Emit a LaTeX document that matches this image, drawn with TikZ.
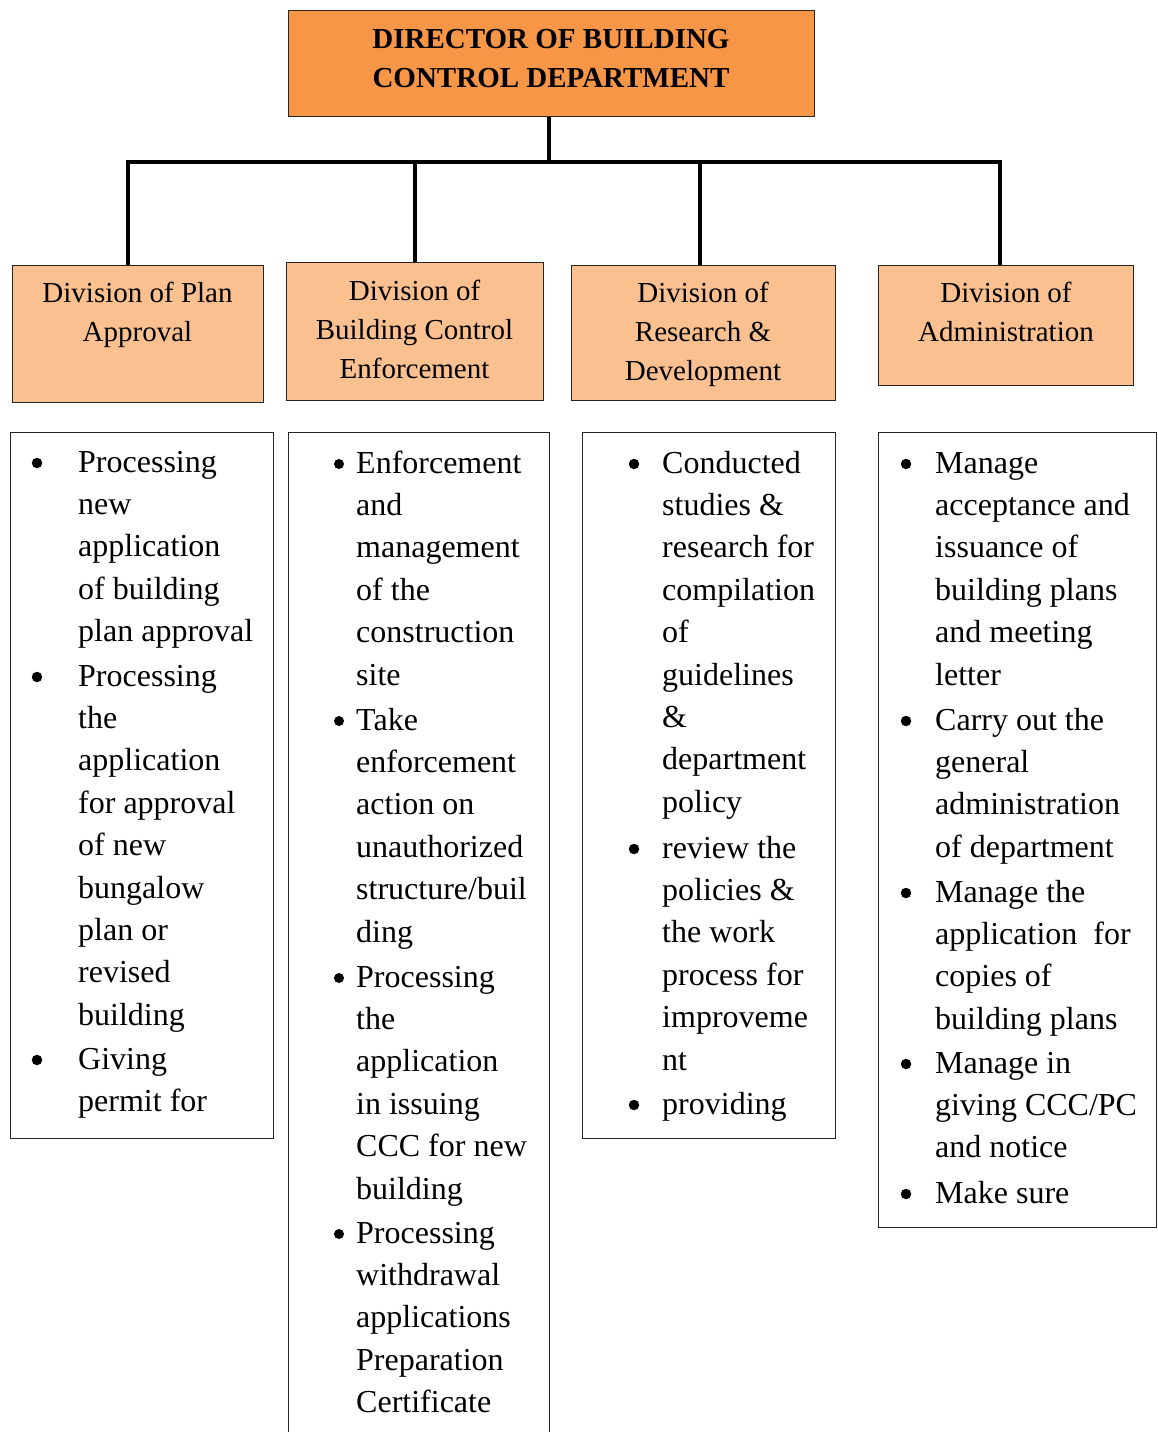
\documentclass[tikz,border=0pt]{standalone}
\usepackage{fontspec}
\setmainfont{Liberation Serif}
\definecolor{topfill}{HTML}{F79646}
\definecolor{divfill}{HTML}{FAC090}
\begin{document}
\begin{tikzpicture}[x=1pt,y=-1pt,
  box/.style={draw=black!85,line width=1.3pt,inner sep=0pt,anchor=north west},
  topbox/.style={box,fill=topfill},
  divbox/.style={box,fill=divfill},
  listbox/.style={box,fill=white},
  toptext/.style={font=\fontsize{29}{39}\selectfont\bfseries,align=center,inner sep=0pt,anchor=base},
  divtext/.style={font=\fontsize{29}{39}\selectfont,align=center,inner sep=0pt,anchor=base},
  item/.style={font=\fontsize{32}{42.4}\selectfont,align=left,inner sep=0pt,anchor=base west},
  bul/.style={circle,fill=black,inner sep=0pt,minimum size=10.5pt},
  conn/.style={line width=4pt}]
\useasboundingbox (0,0) rectangle (1158,1432);

% top box
\node[topbox,minimum width=526pt,minimum height=106pt] (top) at (288,10) {};
\node[toptext] (toplabel) at (551,87) {DIRECTOR OF BUILDING\\CONTROL DEPARTMENT};

% division boxes
\node[divbox,minimum width=251pt,minimum height=137pt] (div1) at (12,265) {};
\node[divbox,minimum width=257pt,minimum height=138pt] (div2) at (286,262) {};
\node[divbox,minimum width=264pt,minimum height=135pt] (div3) at (571,265) {};
\node[divbox,minimum width=255pt,minimum height=120pt] (div4) at (878,265) {};
\node[divtext] (d1t) at (137.5,341) {Division of Plan\\Approval};
\node[divtext] (d2t) at (414.5,378) {Division of\\Building Control\\Enforcement};
\node[divtext] (d3t) at (703,380) {Division of\\Research \&\\Development};
\node[divtext] (d4t) at (1006,341) {Division of\\Administration};

% connectors
\coordinate (bar) at (549,162);
\coordinate (j1) at (128,162);
\coordinate (j2) at (415,162);
\coordinate (j3) at (700,162);
\coordinate (j4) at (1000,162);
\draw[conn] (bar |- top.south) -- (bar);
\draw[conn,line cap=rect] (j1) -- (j4);
\draw[conn] (j1) -- (j1 |- div1.north);
\draw[conn] (j2) -- (j2 |- div2.north);
\draw[conn] (j3) -- (j3 |- div3.north);
\draw[conn] (j4) -- (j4 |- div4.north);

% list boxes
\node[listbox,minimum width=263pt,minimum height=706pt] (list1) at (10,432) {};
\node[listbox,minimum width=261pt,minimum height=1020pt] (list2) at (288,432) {};
\node[listbox,minimum width=253pt,minimum height=706pt] (list3) at (582,432) {};
\node[listbox,minimum width=278pt,minimum height=795pt] (list4) at (878,432) {};

% list 1
\node[bul] (b11) at (37,463) {};
\node[item] (i11) at (78,641.6) {Processing\\new\\application\\of building\\plan approval};
\node[bul] (b12) at (37,677) {};
\node[item] (i12) at (78,1025.2) {Processing\\the\\application\\for approval\\of new\\bungalow\\plan or\\revised\\building};
\node[bul] (b13) at (37,1060) {};
\node[item] (i13) at (78,1111.4) {Giving\\permit for};

% list 2
\node[bul,minimum size=10pt] (b21) at (339,464) {};
\node[item] (i21) at (356,685) {Enforcement\\and\\management\\of the\\construction\\site};
\node[bul,minimum size=10pt] (b22) at (339,721) {};
\node[item] (i22) at (356,942) {Take\\enforcement\\action on\\unauthorized\\structure/buil\\ding};
\node[bul,minimum size=10pt] (b23) at (339,978) {};
\node[item] (i23) at (356,1199) {Processing\\the\\application\\in issuing\\CCC for new\\building};
\node[bul,minimum size=10pt] (b24) at (339,1234) {};
\node[item] (i24) at (356,1412.6) {Processing\\withdrawal\\applications\\Preparation\\Certificate};

% list 3
\node[bul] (b31) at (634,464) {};
\node[item] (i31) at (662,812.2) {Conducted\\studies \&\\research for\\compilation\\of\\guidelines\\\&\\department\\policy};
\node[bul] (b32) at (634,849) {};
\node[item] (i32) at (662,1070) {review the\\policies \&\\the work\\process for\\improveme\\nt};
\node[bul] (b33) at (634,1105) {};
\node[item] (i33) at (662,1114) {providing};

% list 4
\node[bul] (b41) at (906,464) {};
\node[item] (i41) at (935,685) {Manage\\acceptance and\\issuance of\\building plans\\and meeting\\letter};
\node[bul] (b42) at (906,721) {};
\node[item] (i42) at (935,857.2) {Carry out the\\general\\administration\\of department};
\node[bul] (b43) at (906,893) {};
\node[item] (i43) at (935,1029.2) {Manage the\\application \ for\\copies of\\building plans};
\node[bul] (b44) at (906,1064) {};
\node[item] (i44) at (935,1157.8) {Manage in\\giving CCC/PC\\and notice};
\node[bul] (b45) at (906,1194) {};
\node[item] (i45) at (935,1203) {Make sure};
\end{tikzpicture}
\end{document}
